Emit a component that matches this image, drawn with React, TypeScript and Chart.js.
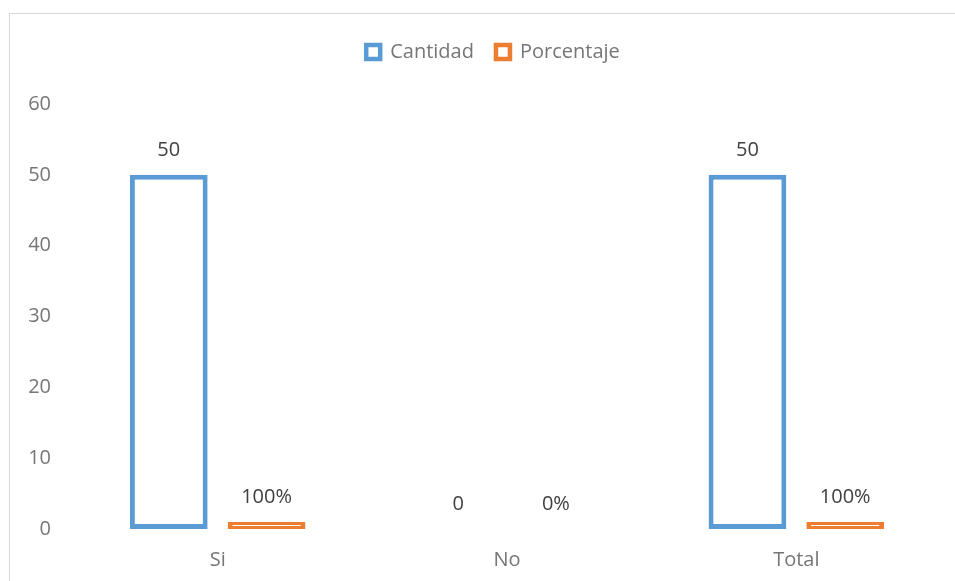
import React, { useEffect, useRef } from "react";
import { Chart, registerables } from "chart.js";

Chart.register(...registerables);

const categories = ["Si", "No", "Total"];
const cantidad = [50, 0, 50];
const porcentaje = [1, 0, 1];
const yTicks = [0, 10, 20, 30, 40, 50, 60];

const BLUE = "#5b9bd5";
const ORANGE = "#ed7d31";
const FONT = "'Open Sans', 'Noto Sans', sans-serif";

const valueLabels = {
  id: "valueLabels",
  afterDatasetsDraw(chart: any) {
    const ctx = chart.ctx;
    ctx.save();
    ctx.font = `20px ${FONT}`;
    ctx.fillStyle = "#404040";
    ctx.textAlign = "center";
    ctx.textBaseline = "middle";
    chart.data.datasets.forEach((ds: any, di: number) => {
      const meta = chart.getDatasetMeta(di);
      meta.data.forEach((el: any, i: number) => {
        const v = ds.data[i];
        const text = di === 1 ? `${Math.round(v * 100)}%` : String(v);
        ctx.fillText(text, el.x, el.y - 25);
      });
    });
    ctx.restore();
  },
};

export default function App() {
  const ref = useRef<HTMLCanvasElement>(null);

  useEffect(() => {
    if (!ref.current) return;
    const chart = new Chart(ref.current, {
      type: "bar",
      data: {
        labels: categories,
        datasets: [
          {
            label: "Cantidad",
            data: cantidad,
            backgroundColor: "#ffffff",
            borderColor: BLUE,
            borderWidth: 5,
            borderSkipped: false,
          },
          {
            label: "Porcentaje",
            data: porcentaje,
            backgroundColor: "#ffffff",
            borderColor: ORANGE,
            borderWidth: { left: 5, right: 5, top: 3, bottom: 3 },
            borderSkipped: false,
          },
        ],
      },
      options: {
        responsive: false,
        animation: false,
        categoryPercentage: 0.676,
        barPercentage: 0.795,
        layout: { padding: { left: 18, right: 15, top: 6, bottom: 10 } },
        plugins: {
          tooltip: { enabled: false },
          // empty title used as a spacer between legend and plot
          title: {
            display: true,
            text: "",
            position: "top",
            weight: 500,
            font: { size: 1, lineHeight: 1 },
            padding: { top: 0, bottom: 31 },
          },
          legend: {
            position: "top",
            labels: {
              font: { family: FONT, size: 20 },
              color: "#767676",
              boxWidth: 14,
              boxHeight: 14,
              padding: 22,
              generateLabels: (c: any) =>
                c.data.datasets.map((ds: any, i: number) => ({
                  text: ds.label,
                  fillStyle: "#ffffff",
                  strokeStyle: ds.borderColor,
                  lineWidth: 4.5,
                  datasetIndex: i,
                  hidden: false,
                  fontColor: "#767676",
                })),
            },
          },
        },
        scales: {
          x: {
            grid: { display: false, drawTicks: false },
            border: { display: false },
            ticks: { font: { family: FONT, size: 20 }, color: "#767676", padding: 19 },
            afterFit: (s: any) => {
              s.height = 42;
            },
          },
          y: {
            min: 0,
            max: 60,
            grid: { display: false, drawTicks: false },
            border: { display: false },
            afterBuildTicks: (s: any) => {
              s.ticks = yTicks.map((v) => ({ value: v }));
            },
            ticks: { font: { family: FONT, size: 20 }, color: "#767676", padding: 22 },
            afterFit: (s: any) => {
              s.width = 45;
            },
          },
          // blank right-hand axis that balances the legend's centre
          y2: {
            position: "right",
            min: 0,
            max: 60,
            grid: { display: false, drawTicks: false },
            border: { display: false },
            ticks: { display: false },
            afterFit: (s: any) => {
              s.width = 17;
            },
          },
        },
      },
      plugins: [valueLabels],
    });
    return () => chart.destroy();
  }, []);

  return (
    <div style={{ position: "absolute", left: 0, top: 0, width: 955, height: 581, overflow: "hidden", background: "#fff" }}>
      <div
        style={{
          position: "absolute",
          left: 9,
          top: 13,
          width: 980,
          height: 600,
          borderLeft: "1px solid #d9d9d9",
          borderTop: "1px solid #d9d9d9",
        }}
      >
        <canvas ref={ref} width={963} height={567} style={{ display: "block", width: 963, height: 567 }} />
      </div>
    </div>
  );
}
